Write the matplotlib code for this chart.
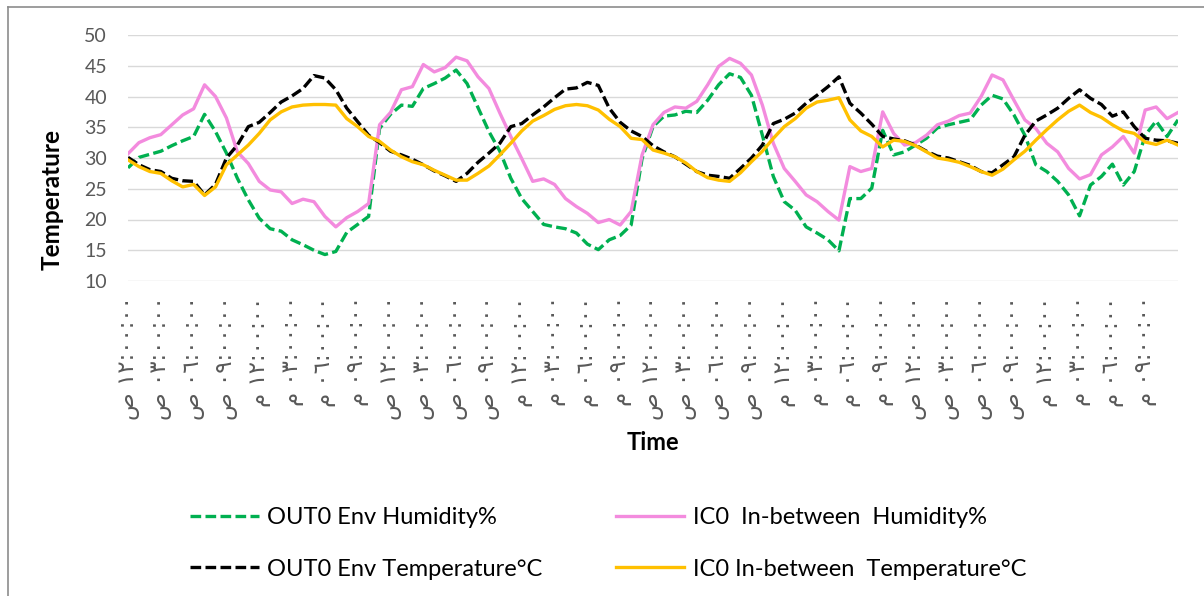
import matplotlib
matplotlib.use("Agg")
import matplotlib.pyplot as plt
from matplotlib.lines import Line2D

# hourly readings over 4 days, starting 12 AM
out_humidity = [28.4, 30.1, 30.6, 31.1, 32.0, 32.8, 33.5, 37.1, 34.3, 30.8,
                26.7, 23.2, 20.2, 18.5, 18.1, 16.7, 15.9, 15.0, 14.3, 14.8,
                17.9, 19.2, 20.5, 34.8, 37.1, 38.6, 38.4, 41.3, 42.1, 43.0,
                44.3, 42.1, 38.2, 34.3, 31.1, 26.7, 23.4, 21.3, 19.2, 18.8,
                18.5, 17.8, 16.0, 15.1, 16.7, 17.4, 19.1, 29.9, 35.1, 36.8,
                37.0, 37.6, 37.4, 39.4, 41.9, 43.7, 43.1, 40.2, 33.7, 27.0,
                22.9, 21.5, 18.8, 17.8, 16.7, 14.9, 23.4, 23.4, 25.1, 34.5,
                30.5, 31.0, 32.1, 33.2, 34.9, 35.4, 35.8, 36.2, 38.6, 40.2,
                39.6, 37.0, 33.7, 28.9, 27.8, 26.2, 24.0, 20.6, 25.6, 27.0,
                29.0, 25.6, 27.8, 33.7, 36.0, 33.5, 36.2]
ic_humidity = [30.7, 32.5, 33.3, 33.8, 35.4, 37.0, 38.0, 41.9, 40.0, 36.5,
               31.0, 29.1, 26.2, 24.8, 24.5, 22.6, 23.3, 22.9, 20.5, 18.8,
               20.3, 21.3, 22.6, 35.4, 37.4, 41.1, 41.6, 45.2, 44.0, 44.7,
               46.4, 45.8, 43.2, 41.3, 37.3, 33.5, 29.9, 26.2, 26.6, 25.7,
               23.4, 22.1, 21.0, 19.5, 20.0, 19.1, 21.3, 30.5, 35.4, 37.4,
               38.3, 38.1, 39.2, 41.9, 44.9, 46.2, 45.4, 43.5, 38.6, 32.4,
               28.3, 26.2, 24.0, 22.9, 21.3, 19.9, 28.6, 27.8, 28.3, 37.5,
               34.0, 32.1, 32.5, 33.7, 35.4, 36.0, 36.9, 37.3, 40.0, 43.5,
               42.7, 39.4, 36.2, 34.8, 32.4, 31.0, 28.3, 26.6, 27.3, 30.5,
               31.8, 33.5, 30.8, 37.8, 38.3, 36.4, 37.4]
out_temp = [30.1, 28.9, 28.1, 27.8, 26.7, 26.3, 26.2, 24.0, 25.7, 30.0,
            32.1, 35.1, 35.8, 37.4, 39.1, 40.1, 41.3, 43.4, 43.0, 41.1,
            38.1, 35.9, 33.7, 32.5, 31.1, 30.5, 29.8, 28.9, 27.9, 27.1,
            26.2, 27.5, 29.3, 30.8, 32.4, 35.1, 35.6, 37.0, 38.3, 39.8,
            41.2, 41.4, 42.3, 41.8, 38.1, 35.8, 34.4, 33.5, 32.0, 31.0,
            30.2, 29.0, 27.8, 27.2, 27.0, 26.7, 28.3, 30.0, 32.1, 35.6,
            36.3, 37.3, 38.9, 40.2, 41.6, 43.2, 38.9, 37.3, 35.5, 33.5,
            33.1, 32.8, 32.1, 31.1, 30.3, 30.0, 29.4, 28.8, 27.8, 27.6,
            28.9, 30.2, 33.7, 36.0, 37.0, 38.1, 39.7, 41.1, 39.7, 38.7,
            36.8, 37.5, 35.1, 33.2, 32.9, 32.8, 32.4]
ic_temp = [29.7, 28.6, 27.8, 27.5, 26.3, 25.3, 25.7, 23.9, 25.3, 28.9,
           30.5, 32.1, 34.0, 36.2, 37.5, 38.3, 38.6, 38.7, 38.7, 38.6,
           36.4, 35.1, 33.5, 32.7, 31.3, 30.2, 29.4, 28.9, 28.0, 27.2,
           26.4, 26.4, 27.5, 28.7, 30.5, 32.4, 34.4, 36.0, 36.9, 37.9,
           38.5, 38.7, 38.5, 37.8, 36.3, 35.1, 33.2, 33.0, 31.3, 30.8,
           30.2, 29.2, 27.8, 26.8, 26.4, 26.2, 27.6, 29.4, 31.1, 33.2,
           35.1, 36.4, 38.1, 39.1, 39.4, 39.8, 36.2, 34.4, 33.5, 31.8,
           32.9, 32.7, 32.0, 31.0, 30.0, 29.7, 29.3, 28.6, 27.8, 27.2,
           28.2, 29.7, 31.1, 32.9, 34.6, 36.2, 37.6, 38.6, 37.4, 36.6,
           35.4, 34.4, 34.0, 32.6, 32.2, 32.9, 32.1]

# tick labels every 3 hours (Arabic AM/PM)
clock_hours = ["١٢", "٠٣", "٠٦", "٠٩"]
day_halves = ["ص", "م"]
n_days = 4

series_names = ["OUT0 Env Humidity%", "IC0  In-between  Humidity%",
                "OUT0 Env Temperature°C", "IC0 In-between  Temperature°C"]

plt.rcParams["font.family"] = ["Lato", "DejaVu Sans"]

W, H = 1204, 596
fig = plt.figure(figsize=(W / 100, H / 100), dpi=100, facecolor="white")
ax = fig.add_axes([128 / W, 1 - 281 / H, (1178 - 128) / W, (281 - 35) / H])

x = list(range(len(out_humidity)))
lw = 2.4
dash = (3.2, 1.3)
l1, = ax.plot(x, out_humidity, color="#00B050", lw=lw, dashes=dash, label=series_names[0])
l2, = ax.plot(x, ic_humidity, color="#F38BDE", lw=lw, label=series_names[1])
l3, = ax.plot(x, out_temp, color="#000000", lw=lw, dashes=dash, label=series_names[2])
l4, = ax.plot(x, ic_temp, color="#FFC000", lw=lw, label=series_names[3])

ax.set_xlim(0, len(x) - 1)
ax.set_ylim(10, 50)
ax.set_yticks(range(10, 51, 5))
ax.grid(axis="y", color="#D9D9D9", lw=1.0)
ax.set_axisbelow(True)
for s in ax.spines.values():
    s.set_visible(False)

tick_labels = []
for d in range(n_days):
    for half in day_halves:
        for hr in clock_hours:
            tick_labels.append(half + " " + hr + ":٠٠:٠٠")
ax.set_xticks(range(0, 3 * len(tick_labels), 3))
ax.set_xticklabels(tick_labels, rotation=90, family="DejaVu Sans",
                   fontsize=16.5, color="#595959", va="top", ha="center")
ax.tick_params(axis="x", length=0, pad=11)
ax.tick_params(axis="y", length=0, pad=15, labelsize=14, labelcolor="#595959")

fig.text(653 / W, 1 - 443 / H, "Time", ha="center", va="center",
         fontsize=17, fontweight="bold")
fig.text(52 / W, 1 - 200 / H, "Temperature", ha="center", va="center",
         rotation=90, fontsize=17.5, fontweight="bold")

fig.legend(handles=[l1, l3, l2, l4], loc="upper left",
           bbox_to_anchor=(190 / W, 1 - 507 / H), ncol=2, frameon=False,
           fontsize=17, handlelength=2.92, handletextpad=0.34,
           columnspacing=3.1, labelspacing=1.3, borderpad=0, borderaxespad=0)

# chart border (top and left visible)
fig.add_artist(Line2D([8 / W, 1], [1 - 6.5 / H, 1 - 6.5 / H], color="#8C8C8C", lw=1.2))
fig.add_artist(Line2D([8 / W, 8 / W], [0, 1 - 6.5 / H], color="#8C8C8C", lw=1.2))

fig.savefig("out.png", dpi=100, facecolor="white")
